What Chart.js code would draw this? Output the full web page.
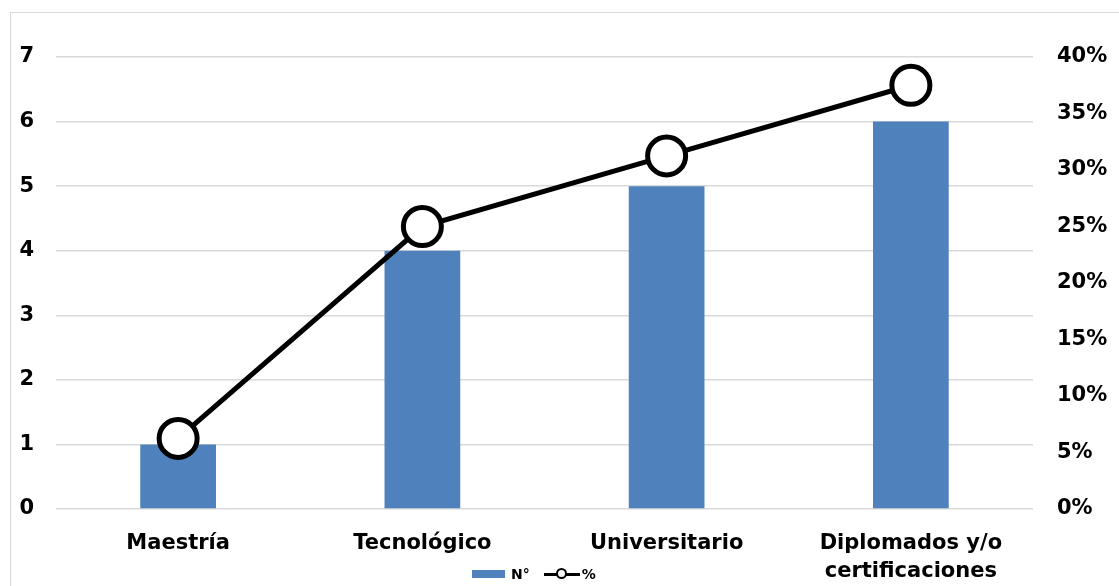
<!DOCTYPE html>
<html>
<head>
<meta charset="utf-8">
<script src="https://cdn.jsdelivr.net/npm/chart.js@4/dist/chart.umd.min.js"></script>
<style>
  html, body { margin: 0; padding: 0; background: #fff; overflow: hidden; }
  #wrap { position: relative; width: 1119px; height: 586px; }
  #frame { position: absolute; left: 10px; top: 12px; width: 1120px; height: 600px; border: 1px solid #d9d9d9; box-sizing: border-box; }
  canvas { position: absolute; left: 0; top: 0; }
  #legend { position: absolute; top: 565px; left: 472px; height: 18px; display: flex; align-items: center;
    font-family: "DejaVu Sans", sans-serif; font-weight: bold; font-size: 14px; color: #000; }
  .box { width: 33px; height: 8px; background: #4f81bd; margin-right: 6px; }
  .sym { position: relative; width: 36px; height: 12px; margin: 0 2px 0 14px; }
  .sym .ln { position: absolute; left: 0; right: 0; top: 5px; height: 3px; background: #000; }
  .sym .dot { position: absolute; left: 12px; top: 0; width: 7px; height: 7px; border: 2.5px solid #000; border-radius: 50%; background: #fff; }
</style>
</head>
<body>
<div id="wrap">
  <div id="frame"></div>
  <canvas id="chart" width="1119" height="586"></canvas>
  <div id="legend">
    <div class="box"></div><span>N°</span>
    <div class="sym"><div class="ln"></div><div class="dot"></div></div><span>%</span>
  </div>
</div>
<script>
const categories = ["Maestría", "Tecnológico", "Universitario", ["Diplomados y/o", "certificaciones"]];
const counts = [1, 4, 5, 6];
const percents = [6.25, 25, 31.25, 37.5];

const tickFont = { family: "DejaVu Sans", weight: "bold", size: 21 };

new Chart(document.getElementById("chart"), {
  type: "bar",
  data: {
    labels: categories,
    datasets: [
      {
        type: "line",
        label: "%",
        data: percents,
        yAxisID: "yPct",
        borderColor: "#000",
        borderWidth: 5,
        backgroundColor: "#fff",
        pointRadius: 19,
        pointBorderWidth: 5,
        pointBackgroundColor: "#fff",
        pointBorderColor: "#000",
        tension: 0,
        order: 0
      },
      {
        label: "N°",
        data: counts,
        yAxisID: "y",
        backgroundColor: "#4f81bd",
        barPercentage: 0.62,
        categoryPercentage: 0.5,
        order: 1
      }
    ]
  },
  options: {
    responsive: false,
    animation: false,
    layout: { padding: { top: 57, bottom: 0, left: 0, right: 0 } },
    plugins: { legend: { display: false }, tooltip: { enabled: false } },
    scales: {
      x: {
        grid: { display: false, drawTicks: false },
        border: { display: false },
        ticks: { color: "#000", font: { ...tickFont, size: 21, lineHeight: 1.35 }, padding: 20, maxRotation: 0, autoSkip: false },
        afterFit: s => { s.height = 77; }
      },
      y: {
        position: "left",
        min: 0, max: 7,
        ticks: { stepSize: 1, color: "#000", font: tickFont, padding: 22 },
        grid: { color: "#d9d9d9", lineWidth: 1.5, drawTicks: false },
        border: { display: false },
        afterFit: s => { s.width = 56; }
      },
      yPct: {
        position: "right",
        min: 0, max: 40,
        ticks: { stepSize: 5, color: "#000", font: tickFont, padding: 24, callback: v => v + "%" },
        grid: { display: false, drawTicks: false },
        border: { display: false },
        afterFit: s => { s.width = 86; }
      }
    }
  }
});
</script>
</body>
</html>
